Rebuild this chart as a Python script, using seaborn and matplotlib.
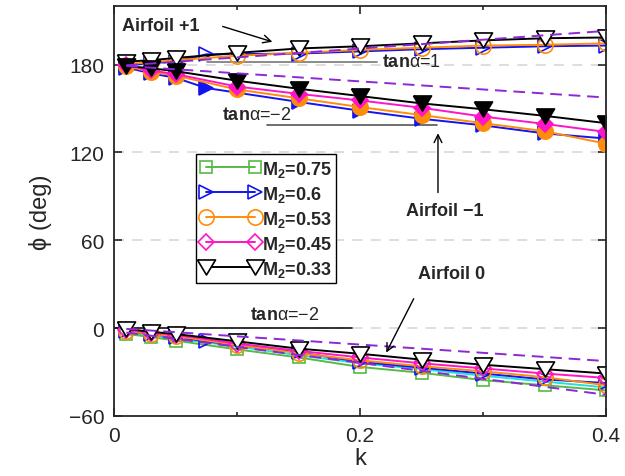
import matplotlib
matplotlib.use("Agg")
import matplotlib.pyplot as plt
import seaborn as sns
import pandas as pd

# reduced frequency samples
k = [0.01, 0.03, 0.05, 0.1, 0.15, 0.2, 0.25, 0.3, 0.35, 0.4]
k_m06 = [0.01, 0.03, 0.05, 0.075, 0.15, 0.2, 0.25, 0.3, 0.35, 0.4]

# Airfoil +1
phi_p1_m06 = [179.5, 181, 182, 187, 187.5, 189, 190.5, 191.5, 192.5, 193]
phi_p1_m053 = [180.5, 181.5, 183, 186, 188, 190, 191.5, 193, 193.5, 194.5]
phi_p1_m033 = [182, 183, 184.5, 188, 191, 192.5, 194.5, 196.5, 198, 198.5]

# Airfoil -1
phi_m1_m06 = [178, 174, 171, 164, 154.5, 148.5, 143, 138.5, 133, 129.5]
phi_m1_m053 = [179, 175, 172.5, 163, 157, 151, 145.5, 140, 134.5, 126]
phi_m1_m045 = [179.5, 176, 173.5, 165, 160, 155.5, 150.5, 144.5, 139.5, 134]
phi_m1_m033 = [179, 177.5, 175.5, 169, 163.5, 158.5, 153.5, 149.5, 145, 140]

# Airfoil 0
phi_0_m075 = [-4, -6, -8.5, -14.5, -20, -26.5, -30.5, -35.5, -39, -42.5]
phi_0_m06 = [-2, -4, -6, -9, -16.5, -23, -27, -31, -35, -37.5]
phi_0_m053 = [-2, -4, -5.5, -11.5, -17, -22, -26, -29.5, -33.5, -39]
phi_0_m045 = [-1, -3, -4.5, -10.5, -15.5, -20, -24, -27.5, -31, -34]
phi_0_m033 = [-0.5, -2.5, -4, -9, -14, -17.5, -21.5, -25, -28, -31]
phi_0_cyan = [-3, -5, -7, -12.5, -18.5, -24, -28, -32.5, -36.5, -40.5]

# straight-line estimates (dashed)
k_est = [0.01, 0.4]
phi_est_p1 = [179.5, 203]
phi_est_m1 = [179, 157.5]
phi_est_0_hi = [-0.5, -22.5]
phi_est_0_lo = [-3, -45.5]

mach_labels = ["M$_\\mathbf{2}$=0.75", "M$_\\mathbf{2}$=0.6", "M$_\\mathbf{2}$=0.53",
               "M$_\\mathbf{2}$=0.45", "M$_\\mathbf{2}$=0.33"]

sns.set_style("ticks")
plt.rcParams["font.family"] = ["Liberation Sans", "DejaVu Sans"]
plt.rcParams["mathtext.fontset"] = "custom"
plt.rcParams["mathtext.rm"] = "Liberation Sans"
plt.rcParams["mathtext.it"] = "Liberation Sans:italic"
plt.rcParams["mathtext.bf"] = "Liberation Sans:bold"

GREEN = "#55BB44"
BLUE = "#1414F0"
ORANGE = "#FF8C0A"
PINK = "#FF14C8"
BLACK = "#000000"
CYAN = "#22E0E0"
PURPLE = "#8C28D8"

# slightly wide downward triangle
TRI_DOWN = [(-1.2, 1.0), (1.2, 1.0), (0.0, -1.0), (-1.2, 1.0)]

fig = plt.figure(figsize=(6.25, 4.77), dpi=100)
ax = fig.add_axes([0.1824, 0.1258, 0.7872, 0.8595])


def draw(x, y, color, marker=None, ms=10, face="none", lw=1.4, z=2):
    df = pd.DataFrame({"k": x, "phi": y})
    sns.lineplot(data=df, x="k", y="phi", ax=ax, color=color, lw=lw,
                 marker=marker, markersize=ms, markerfacecolor=face,
                 markeredgecolor=color, markeredgewidth=1.2, sort=False,
                 legend=False, zorder=z)
    return ax.lines[-1]


# Airfoil 0 (open markers)
draw(k, phi_0_cyan, CYAN, None)
h_g = draw(k, phi_0_m075, GREEN, "s", 8.5)
h_b = draw(k_m06, phi_0_m06, BLUE, ">", 10.5)
h_o = draw(k, phi_0_m053, ORANGE, "o", 11)
h_p = draw(k, phi_0_m045, PINK, "D", 8)
h_k = draw(k, phi_0_m033, BLACK, TRI_DOWN, 13, face="white")

# Airfoil +1 (open markers)
draw(k_m06, phi_p1_m06, BLUE, ">", 10.5)
draw(k, phi_p1_m053, ORANGE, "o", 11)
draw(k, phi_p1_m033, BLACK, TRI_DOWN, 13, face="white")

# Airfoil -1 (filled markers)
draw(k_m06, phi_m1_m06, BLUE, ">", 10.5, face=BLUE)
draw(k, phi_m1_m053, ORANGE, "o", 11, face=ORANGE)
draw(k, phi_m1_m045, PINK, "D", 8, face=PINK)
draw(k, phi_m1_m033, BLACK, TRI_DOWN, 13, face=BLACK)

# dashed estimates
for est in (phi_est_p1, phi_est_m1, phi_est_0_hi, phi_est_0_lo):
    ln = draw(k_est, est, PURPLE, None, lw=1.4, z=3)
    ln.set_linestyle((0, (6, 3.5)))

ax.set_xlim(0, 0.4)
ax.set_ylim(-60, 220)
ax.set_xticks([0, 0.2, 0.4])
ax.set_xticklabels(["0", "0.2", "0.4"])
ax.set_xticks([0.1, 0.3], minor=True)
ax.set_yticks([-60, 0, 60, 120, 180])
ax.set_yticklabels(["\u221260", "0", "60", "120", "180"])
for g in (0, 60, 120, 180):
    ax.axhline(g, color="#d8d8d8", lw=1.2, ls=(0, (6, 5)), zorder=0.5)

ax.tick_params(which="both", direction="in", top=True, right=True,
               labelsize=15, width=1.2, pad=7)
ax.tick_params(which="major", length=6)
ax.tick_params(which="minor", length=3)
for s in ax.spines.values():
    s.set_linewidth(1.3)

ax.set_xlabel("k", fontsize=17, labelpad=2)
ax.set_ylabel("\u03d5 (deg)", fontsize=17, labelpad=12)

# slope guides
ax.plot([0.0756, 0.214], [181.5, 181.5], color="#777777", lw=1.2, zorder=1)
ax.plot([0.124, 0.263], [139, 139], color="#555555", lw=1.2, zorder=1)
ax.plot([0.0, 0.1935], [0, 0], color="#111111", lw=1.2, zorder=1)
tan_kw = dict(fontsize=13, va="center", ha="left")
ax.text(0.2175, 182, "$\\mathbf{tan}$\u03b1=1", **tan_kw)
ax.text(0.088, 146, "$\\mathbf{tan}$\u03b1=\u22122", **tan_kw)
ax.text(0.1105, 9, "$\\mathbf{tan}$\u03b1=\u22122", **tan_kw)

# airfoil labels
lab_kw = dict(fontsize=13, fontweight="bold", va="center")
ax.text(0.0065, 206.5, "Airfoil +1", ha="left", **lab_kw)
ax.text(0.2685, 80.5, "Airfoil \u22121", ha="center", **lab_kw)
ax.text(0.2745, 37.5, "Airfoil 0", ha="center", **lab_kw)
arr = dict(arrowstyle="->", color="black", lw=1.0, mutation_scale=14)
ax.annotate("", xy=(0.1309, 195), xytext=(0.0862, 206.6), arrowprops=arr)
ax.annotate("", xy=(0.2634, 135), xytext=(0.2634, 90.7), arrowprops=arr)
ax.annotate("", xy=(0.2203, -18.4), xytext=(0.2447, 21.8), arrowprops=arr)

leg = ax.legend([h_g, h_b, h_o, h_p, h_k], mach_labels, loc="upper left",
                bbox_to_anchor=(0.167, 0.639), borderaxespad=0, numpoints=2,
                handlelength=3.3, handletextpad=0.1, labelspacing=0.28,
                borderpad=0.25, fancybox=False, framealpha=1,
                edgecolor="black", prop={"weight": "bold", "size": 13})
leg.get_frame().set_linewidth(1.0)

fig.savefig("out.png", dpi=100)
